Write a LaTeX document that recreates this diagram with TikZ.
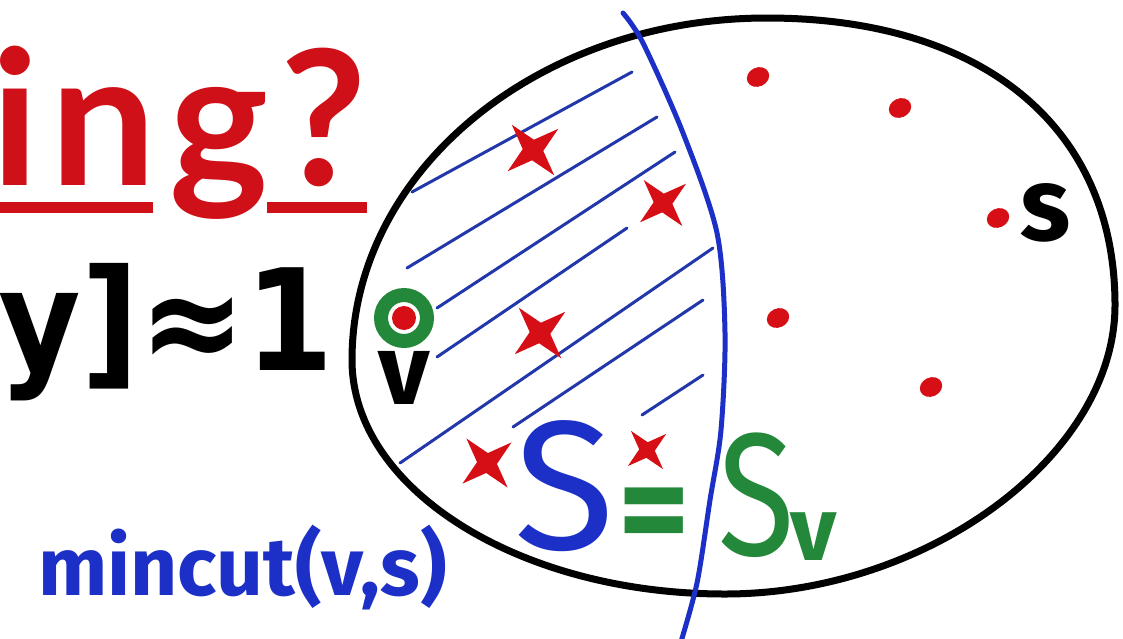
\documentclass[tikz,border=0pt]{standalone}
\usepackage{fontspec}
\newfontfamily\titlefont{Lato}[LetterSpace=6.5]
\newfontfamily\symfont{DejaVu Sans}
\newfontfamily\handfont{Fira Sans}
\usetikzlibrary{positioning,shapes.geometric}
\definecolor{inkred}{RGB}{208,16,24}
\definecolor{dotred}{RGB}{214,14,22}
\definecolor{inkblue}{RGB}{28,48,200}
\definecolor{hatchblue}{RGB}{34,56,170}
\definecolor{inkgreen}{RGB}{36,136,58}

\begin{document}
\begin{tikzpicture}[x=1pt,y=-1pt,
  vtx/.style={ellipse,fill=dotred,inner sep=0,minimum width=23pt,minimum height=19pt,rotate=25},
  spark/.style={star,star points=4,star point ratio=3.2,fill=dotred,inner sep=0,minimum size=#1,rotate=40},
  hatch/.style={hatchblue,line width=3pt,line cap=round},
  lbl/.style={inner sep=0,font=\handfont\bfseries\fontsize{#1}{#1}\selectfont}]
\useasboundingbox (0,0) rectangle (1123,638);
\fill[white] (0,0) rectangle (1123,638);

\node[anchor=base west,inner sep=0,text=inkred,font=\titlefont\bfseries\fontsize{188}{188}\selectfont] (title) at (-9,185) {ing?};
\draw[inkred,line width=11pt] (0,207) -- (153,207) (267,207) -- (367,207);
\node[anchor=base east,inner sep=0,xscale=0.9,font=\symfont\bfseries\fontsize{141}{141}\selectfont] (approx) at (334,370) {y]≈1};

% the set and the cut
\draw[line width=7pt] (352,360) .. controls (352,171) and (538,18) .. (767,18)
   .. controls (983,18) and (1115,127) .. (1115,305)
   .. controls (1115,455) and (928,594) .. (725,594)
   .. controls (519,594) and (352,489) .. cycle;
\foreach \xa/\ya/\xb/\yb in {%
412/192/632/72, 407/268/657/117, 437/308/675/152, 437/357/627/228,
400/463/713/248, 513/427/703/300, 642/415/703/375} {
   \draw[hatch] (\xa,\ya) -- (\xb,\yb);
}
\draw[inkblue,line width=5pt,line cap=round] plot[smooth] coordinates {(623,13) (643,43) (683,133) (717,233) (725,333) (721,430) (710,500) (697,583) (680,645)};

\node[circle,draw=inkgreen,line width=14pt,minimum size=46pt,inner sep=0] (ring) at (404,318) {};
\node[vtx,minimum width=24pt,minimum height=24pt] (v) at (404,318) {};
\foreach \x/\y/\n in %
{758/77/a,900/108/b,998/218/s,778/318/c,931/387/d} {
   \node[vtx] (\n) at (\x,\y) {};
}
\foreach \x/\y/\s/\n in %
{533/150/66/x1,663/203/60/x2,540/333/66/x3,487/463/64/x4,647/450/50/x5} {
   \node[spark=\s] (\n) at (\x,\y) {};
}

\node[lbl=100,below=3pt of ring] (vlbl) {v};
\node[lbl=104,right=12pt of s] (slbl) {s};
\node[lbl=82,text=inkblue,anchor=base west] (cutlbl) at (38,595) {mincut(v,s)};
\node[anchor=base,inner sep=0,text=inkblue,font=\handfont\fontsize{184}{184}\selectfont] (S) at (565,549) {S};
\node[lbl=138,text=inkgreen,anchor=base] (eq) at (654,556) {=};
\node[anchor=base,inner sep=0,text=inkgreen,font=\handfont\fontsize{175}{175}\selectfont,xscale=0.8] (Sv) at (757,555) {S};
\node[lbl=90,text=inkgreen,anchor=base] (sub) at (814,560) {v};
\end{tikzpicture}
\end{document}
